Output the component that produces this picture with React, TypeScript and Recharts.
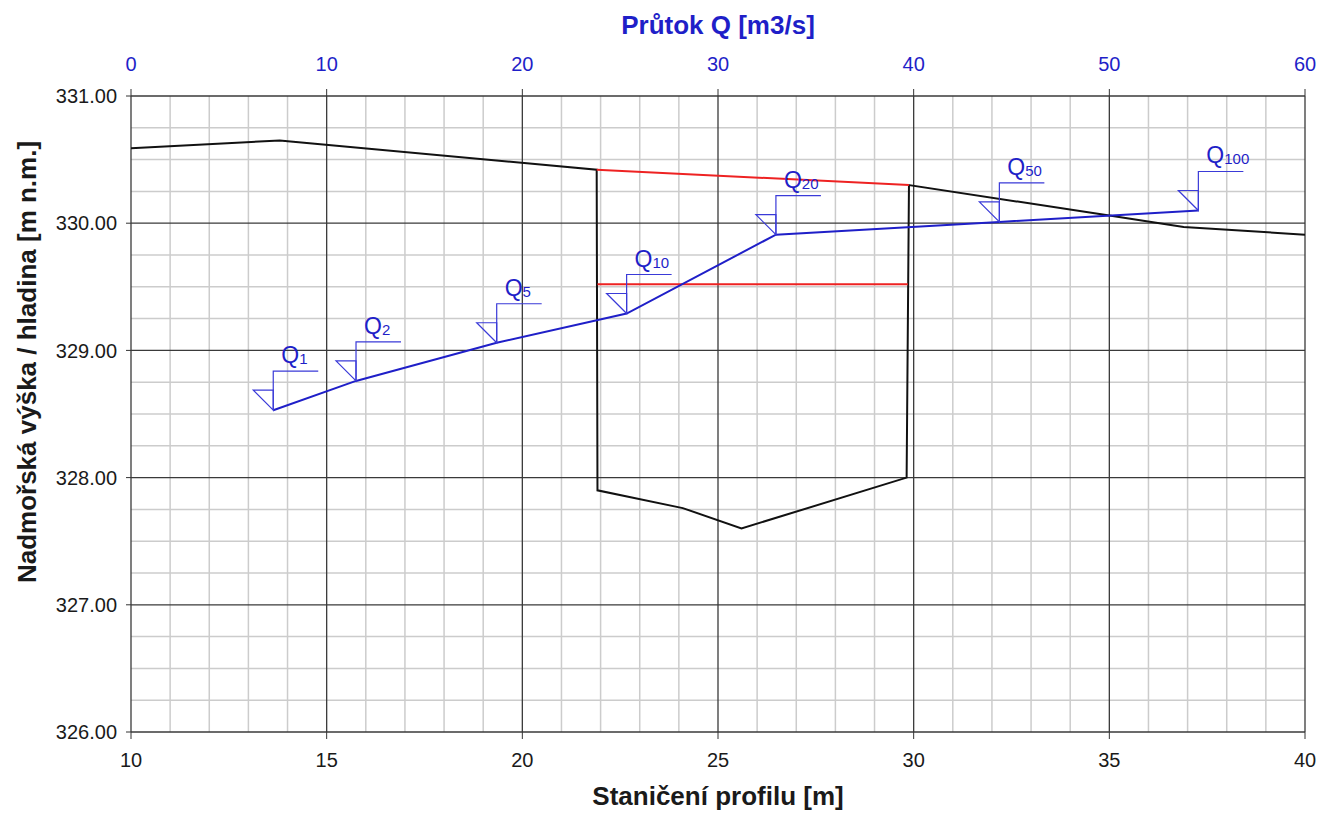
import React from 'react';
import { ComposedChart, Line, XAxis, YAxis, ReferenceLine } from 'recharts';

// ---- data ----
const terrainX = [10, 13.8, 21.9, 21.92, 24.1, 25.6, 29.82, 29.88, 35.0, 36.9, 40];
const terrainZ = [330.59, 330.65, 330.42, 327.9, 327.76, 327.6, 328.0, 330.3, 330.06, 329.97, 329.91];

const deckX = [21.9, 29.88];
const deckZ = [330.42, 330.3];

const soffitX = [21.92, 29.85];
const soffitZ = [329.52, 329.52];

const flowNames = ['1', '2', '5', '10', '20', '50', '100'];
const flowQ = [7.27, 11.5, 18.69, 25.33, 32.96, 44.38, 54.55];
const flowLevel = [328.53, 328.76, 329.06, 329.29, 329.91, 330.01, 330.1];

const stationTicks = [10, 15, 20, 25, 30, 35, 40];
const flowTicks = [0, 10, 20, 30, 40, 50, 60];
const levelTicks = [326, 327, 328, 329, 330, 331];

const minorStations = [11, 12, 13, 14, 16, 17, 18, 19, 21, 22, 23, 24, 26, 27, 28, 29, 31, 32, 33, 34, 36, 37, 38, 39];
const minorLevels = [326.25, 326.5, 326.75, 327.25, 327.5, 327.75, 328.25, 328.5, 328.75, 329.25, 329.5, 329.75, 330.25, 330.5, 330.75];

const toRows = (xs: number[], ys: number[]) => xs.map((x, i) => ({ x, y: ys[i] }));
const terrain = toRows(terrainX, terrainZ);
const deck = toRows(deckX, deckZ);
const soffit = toRows(soffitX, soffitZ);
const flows = flowQ.map((q, i) => ({ x: q, y: flowLevel[i], name: flowNames[i] }));

// ---- layout ----
const W = 1317;
const H = 811;
const MARGIN = { top: 38, right: 20, bottom: 47, left: 53 };
const FONT = '"Liberation Sans", Arial, Helvetica, sans-serif';
const BLUE = '#1f1fc8';
const BLUE_THIN = '#3a3ad8';

const renderMarker = (props: any) => {
  const { cx, cy, payload, index } = props;
  if (cx == null || cy == null) return <g key={index} />;
  return (
    <g key={`m${index}`}>
      <polyline
        points={`${cx},${cy} ${cx},${cy - 39} ${cx + 45},${cy - 39}`}
        fill="none"
        stroke={BLUE_THIN}
        strokeWidth={1.2}
      />
      <polygon
        points={`${cx},${cy} ${cx - 20},${cy - 20} ${cx},${cy - 20}`}
        fill="none"
        stroke={BLUE_THIN}
        strokeWidth={1.2}
      />
      <text x={cx + 8} y={cy - 47} fill={BLUE} fontFamily={FONT} fontSize={23}>
        Q<tspan fontSize={15} dy={1}>{payload.name}</tspan>
      </text>
    </g>
  );
};

export default function App() {
  const plotLeft = MARGIN.left + 70;
  const plotRight = W - MARGIN.right;
  const plotCenter = (plotLeft + plotRight) / 2;
  return (
    <div style={{ width: W, height: H, background: '#fff' }}>
      <ComposedChart width={W} height={H} margin={MARGIN}>
        <XAxis
          xAxisId="m"
          type="number"
          dataKey="x"
          domain={[10, 40]}
          ticks={stationTicks}
          allowDataOverflow
          orientation="bottom"
          height={40}
          axisLine={false}
          tickLine={{ stroke: '#333' }}
          tickSize={7}
          tickMargin={14}
          tick={{ fontSize: 20, fill: '#1a1a1a', fontFamily: FONT }}
          label={{
            content: () => (
              <text x={plotCenter} y={797} textAnchor="middle" fontFamily={FONT} fontSize={26} fontWeight="bold" fill="#1a1a1a">
                Staničení profilu [m]
              </text>
            ),
          }}
        />
        <XAxis
          xAxisId="q"
          type="number"
          dataKey="x"
          domain={[0, 60]}
          ticks={flowTicks}
          allowDataOverflow
          orientation="top"
          height={50}
          axisLine={false}
          tickLine={{ stroke: '#333' }}
          tickSize={7}
          tickMargin={18}
          tick={{ fontSize: 20, fill: BLUE, fontFamily: FONT }}
          label={{
            content: () => (
              <text x={plotCenter} y={26} textAnchor="middle" fontFamily={FONT} fontSize={26} fontWeight="bold" fill={BLUE}>
                Průtok Q [m3/s]
              </text>
            ),
          }}
        />
        <YAxis
          yAxisId="h"
          type="number"
          dataKey="y"
          domain={[326, 331]}
          ticks={levelTicks}
          allowDataOverflow
          width={70}
          axisLine={false}
          tickLine={{ stroke: '#333' }}
          tickSize={5}
          tickMargin={9}
          tickFormatter={(v: number) => v.toFixed(2)}
          tick={{ fontSize: 20, fill: '#1a1a1a', fontFamily: FONT }}
          label={{
            content: () => (
              <text
                x={28}
                y={354}
                transform="rotate(-90, 28, 354)"
                textAnchor="middle"
                fontFamily={FONT}
                fontSize={26}
                fontWeight="bold"
                fill="#1a1a1a"
              >
                Nadmořská výška / hladina [m n.m.]
              </text>
            ),
          }}
        />

        {minorStations.map((v) => (
          <ReferenceLine key={`vx${v}`} xAxisId="m" yAxisId="h" x={v} stroke="#cccccc" strokeWidth={1.5} />
        ))}
        {minorLevels.map((v) => (
          <ReferenceLine key={`hy${v}`} xAxisId="m" yAxisId="h" y={v} stroke="#cccccc" strokeWidth={1.5} />
        ))}
        {stationTicks.map((v) => (
          <ReferenceLine key={`VX${v}`} xAxisId="m" yAxisId="h" x={v} stroke="#3a3a3a" strokeWidth={1.3} />
        ))}
        {levelTicks.map((v) => (
          <ReferenceLine key={`HY${v}`} xAxisId="m" yAxisId="h" y={v} stroke="#3a3a3a" strokeWidth={1.3} />
        ))}

        <Line
          xAxisId="m"
          yAxisId="h"
          data={terrain}
          dataKey="y"
          type="linear"
          stroke="#111"
          strokeWidth={2}
          dot={false}
          activeDot={false}
          isAnimationActive={false}
        />
        <Line
          xAxisId="m"
          yAxisId="h"
          data={deck}
          dataKey="y"
          type="linear"
          stroke="#ee2222"
          strokeWidth={2}
          dot={false}
          activeDot={false}
          isAnimationActive={false}
        />
        <Line
          xAxisId="m"
          yAxisId="h"
          data={soffit}
          dataKey="y"
          type="linear"
          stroke="#ee2222"
          strokeWidth={2.2}
          dot={false}
          activeDot={false}
          isAnimationActive={false}
        />
        <Line
          xAxisId="q"
          yAxisId="h"
          data={flows}
          dataKey="y"
          type="linear"
          stroke={BLUE}
          strokeWidth={2}
          dot={renderMarker}
          activeDot={false}
          isAnimationActive={false}
        />
      </ComposedChart>
    </div>
  );
}
